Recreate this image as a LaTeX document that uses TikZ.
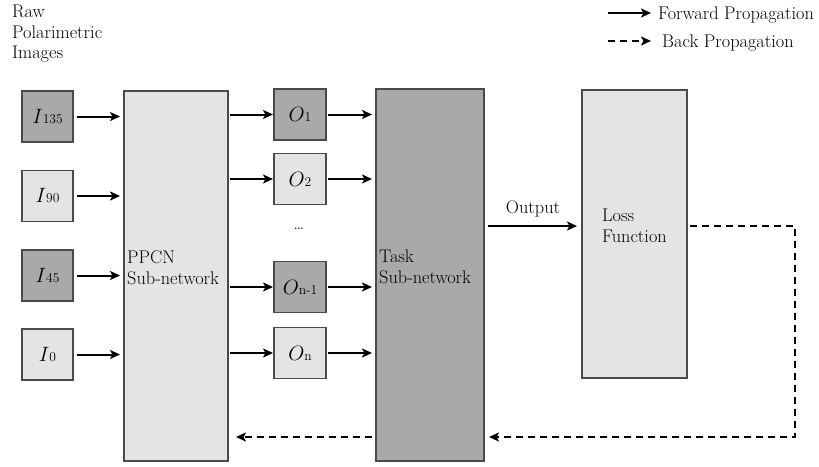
\documentclass[tikz,border=0pt]{standalone}
\usetikzlibrary{arrows.meta}
\definecolor{boxdark}{HTML}{A9A9A9}
\definecolor{boxlight}{HTML}{E4E4E4}
\definecolor{edgegray}{HTML}{4A4A4A}
\newcommand{\lab}[2]{{\fontsize{21}{21}\selectfont$#1$}{\fontsize{13.5}{13.5}\selectfont #2}}
\begin{document}
\begin{tikzpicture}[x=1pt,y=-1pt,
  box/.style={draw=edgegray, line width=1.8pt, inner sep=0pt, outer sep=0pt},
  darkbox/.style={box, fill=boxdark},
  lightbox/.style={box, fill=boxlight},
  txt/.style={font=\fontsize{18.3}{20.8}\selectfont, inner sep=0pt, align=left},
  fwd/.style={line width=2pt, -{Stealth[length=10pt,width=9pt,inset=2.5pt]}},
  bwd/.style={line width=2pt, dash pattern=on 7pt off 5pt, -{Stealth[length=10pt,width=9pt,inset=2.5pt]}}]
\useasboundingbox (0,0) rectangle (819,466);

% input images
\node[darkbox,  minimum width=51pt, minimum height=51pt] (i135) at (47.5,116.5) {\lab{I}{135}};
\node[lightbox, minimum width=51pt, minimum height=51pt] (i90)  at (47.5,196)   {\lab{I}{90}};
\node[darkbox,  minimum width=51pt, minimum height=51pt] (i45)  at (47.5,275.5) {\lab{I}{45}};
\node[lightbox, minimum width=51pt, minimum height=51pt] (i0)   at (47.5,354.5) {\lab{I}{0}};
\node[txt, anchor=north west] (raw) at (12,4.5) {Raw\\Polarimetric\\Images};

% sub-networks and loss
\node[lightbox, minimum width=104pt, minimum height=370pt] (ppcn) at (176,276) {};
\node[txt, anchor=west] (ppcntxt) at (127,268) {PPCN\\Sub-network};
\node[darkbox, minimum width=108pt, minimum height=372pt] (task) at (430,275) {};
\node[txt, anchor=west] (tasktxt) at (379,267) {Task\\Sub-network};
\node[lightbox, minimum width=105pt, minimum height=288pt] (loss) at (634.5,234) {};
\node[txt, anchor=west] (losstxt) at (602,226) {Loss\\Function};

% intermediate outputs
\node[darkbox,  minimum width=52pt, minimum height=51pt] (o1)  at (300,114.5) {\lab{O}{1}};
\node[lightbox, minimum width=52pt, minimum height=51pt] (o2)  at (300,179)   {\lab{O}{2}};
\node[txt] (dots) at (299,229) {\dots};
\node[darkbox,  minimum width=52pt, minimum height=51pt] (on1) at (300,287)   {\lab{O}{n-1}};
\node[lightbox, minimum width=52pt, minimum height=51pt] (on)  at (300,353)   {\lab{O}{n}};

% forward propagation
\foreach \n in {i135,i90,i45,i0}
  \draw[fwd, shorten <=4pt, shorten >=4pt] (\n.east) -- (\n.east -| ppcn.west);
\foreach \n in {o1,o2,on1,on}{
  \draw[fwd, shorten <=2pt, shorten >=1pt] (\n.west -| ppcn.east) -- (\n.west);
  \draw[fwd, shorten <=2pt, shorten >=4pt] (\n.east) -- (\n.east -| task.west);
}
\draw[fwd, shorten <=4pt, shorten >=5pt] ([yshift=8pt]task.east |- loss.west) -- ([yshift=8pt]loss.west);
\node[txt, anchor=base] (outtxt) at (533,213) {Output};

% back propagation
\coordinate (turn) at (795,437);
\draw[bwd, shorten <=3pt, shorten >=5pt] ([yshift=8pt]loss.east) -| (turn) -- (task.east |- turn);
\draw[bwd, shorten <=4pt, shorten >=8pt] (task.west |- turn) -- (ppcn.east |- turn);

% legend
\coordinate (fs) at (608,13);
\coordinate (fe) at (651,13);
\coordinate (bs) at (608,41);
\coordinate (be) at (651,41);
\draw[fwd] (fs) -- (fe);
\draw[bwd] (bs) -- (be);
\node[txt, anchor=base west] (fwdtxt) at (658,19) {Forward Propagation};
\node[txt, anchor=base west] (bwdtxt) at (662,47) {Back Propagation};
\end{tikzpicture}
\end{document}
